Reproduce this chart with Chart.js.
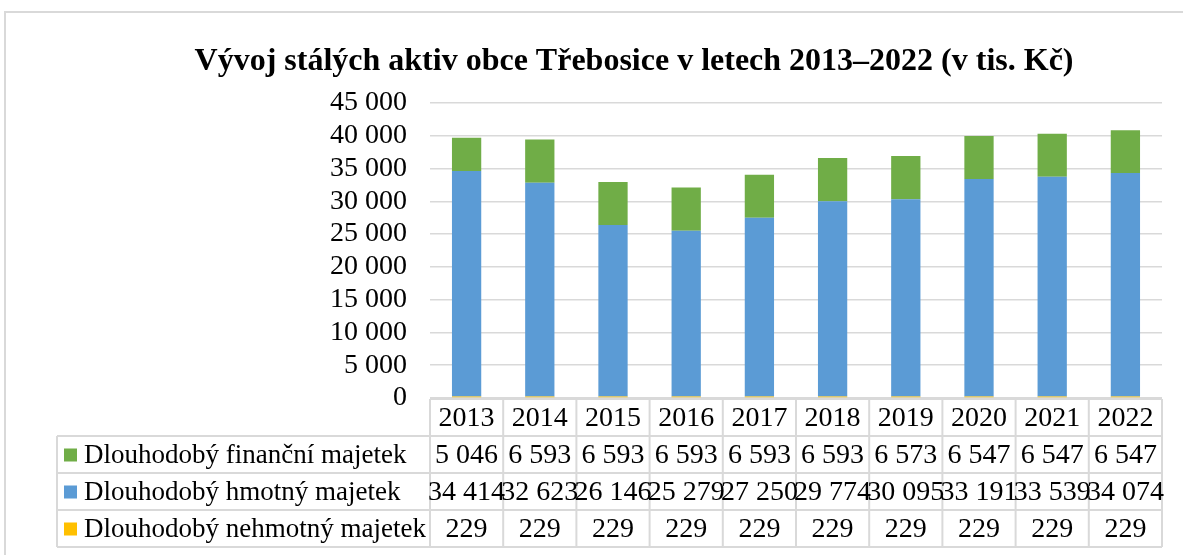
<!DOCTYPE html>
<html>
<head>
<meta charset="utf-8">
<script src="https://cdn.jsdelivr.net/npm/chart.js@4"></script>
<style>
  html, body { margin: 0; padding: 0; background: #fff; }
  #wrap { width: 1183px; height: 555px; position: relative; }
</style>
</head>
<body>
<div id="wrap"><canvas id="chart"></canvas></div>
<script>
const years = ['2013', '2014', '2015', '2016', '2017', '2018', '2019', '2020', '2021', '2022'];
const financni = [5046, 6593, 6593, 6593, 6593, 6593, 6573, 6547, 6547, 6547];
const hmotny = [34414, 32623, 26146, 25279, 27250, 29774, 30095, 33191, 33539, 34074];
const nehmotny = [229, 229, 229, 229, 229, 229, 229, 229, 229, 229];
const seriesNames = ['Dlouhodobý finanční majetek', 'Dlouhodobý hmotný majetek', 'Dlouhodobý nehmotný majetek'];
const seriesColors = ['#70ad47', '#5b9bd5', '#ffc000'];
const chartTitle = 'Vývoj stálých aktiv obce Třebosice v letech 2013–2022 (v tis. Kč)';
const yMax = 45000;
const yStep = 5000;

const serif = '"Times New Roman", "Liberation Serif", serif';
const fmt = v => String(v).replace(/\B(?=(\d{3})+(?!\d))/g, ' ');

// title, frame and the data table under the plot
const tablePlugin = {
  id: 'dataTable',
  beforeDraw(chart) {
    const ctx = chart.ctx;
    ctx.save();
    ctx.strokeStyle = '#d9d9d9';
    ctx.lineWidth = 2;
    ctx.strokeRect(5, 12, 1300, 700);
    ctx.fillStyle = '#000';
    ctx.font = 'bold 32px ' + serif;
    ctx.textAlign = 'center';
    ctx.textBaseline = 'middle';
    ctx.fillText(chartTitle, 634, 62);
    ctx.restore();
  },
  afterDraw(chart) {
    const { ctx, chartArea, scales: { x } } = chart;
    const rowH = 37;
    const top = chartArea.bottom + 1;
    const colW = (chartArea.right - chartArea.left) / years.length;
    const labelLeft = 57;
    const rows = [financni, hmotny, nehmotny];

    ctx.save();
    ctx.strokeStyle = '#d9d9d9';
    ctx.lineWidth = 2;
    ctx.beginPath();
    ctx.moveTo(chartArea.left, top);
    ctx.lineTo(chartArea.right, top);
    for (let r = 1; r <= 4; r++) {
      ctx.moveTo(labelLeft, top + r * rowH);
      ctx.lineTo(chartArea.right, top + r * rowH);
    }
    for (let i = 0; i <= years.length; i++) {
      const xx = chartArea.left + i * colW;
      ctx.moveTo(xx, top);
      ctx.lineTo(xx, top + 4 * rowH);
    }
    ctx.moveTo(labelLeft, top + rowH);
    ctx.lineTo(labelLeft, top + 4 * rowH);
    ctx.stroke();

    ctx.fillStyle = '#000';
    ctx.font = '28px ' + serif;
    ctx.textAlign = 'center';
    ctx.textBaseline = 'middle';
    years.forEach((y, i) => ctx.fillText(y, x.getPixelForValue(i), top + rowH / 2 + 1));

    rows.forEach((vals, r) => {
      const cy = top + (r + 1) * rowH + rowH / 2 + 1;
      ctx.font = '28px ' + serif;
      ctx.textAlign = 'center';
      ctx.fillStyle = '#000';
      vals.forEach((v, i) => ctx.fillText(fmt(v), x.getPixelForValue(i), cy));
      ctx.fillStyle = seriesColors[r];
      ctx.fillRect(64, cy - 7, 13, 13);
      ctx.fillStyle = '#000';
      ctx.textAlign = 'left';
      ctx.font = '27px ' + serif;
      ctx.fillText(seriesNames[r], 84, cy);
    });
    ctx.restore();
  }
};

new Chart(document.getElementById('chart'), {
  type: 'bar',
  data: {
    labels: years,
    datasets: [
      { label: seriesNames[2], data: nehmotny, backgroundColor: seriesColors[2] },
      { label: seriesNames[1], data: hmotny, backgroundColor: seriesColors[1] },
      { label: seriesNames[0], data: financni, backgroundColor: seriesColors[0] }
    ]
  },
  options: {
    responsive: true,
    maintainAspectRatio: false,
    animation: false,
    layout: { padding: { top: 103, bottom: 157, left: 0, right: 21 } },
    datasets: { bar: { categoryPercentage: 1, barPercentage: 0.4 } },
    plugins: { legend: { display: false }, tooltip: { enabled: false }, title: { display: false } },
    scales: {
      x: { stacked: true, display: false },
      y: {
        stacked: true,
        min: 0,
        max: yMax,
        border: { display: false },
        grid: { color: '#d9d9d9', lineWidth: 1.5, drawTicks: false },
        afterFit(scale) { scale.width = 430; },
        ticks: {
          stepSize: yStep,
          autoSkip: false,
          padding: 23,
          color: '#000',
          font: { family: serif, size: 28 },
          callback: v => fmt(v)
        }
      }
    }
  },
  plugins: [tablePlugin]
});
</script>
</body>
</html>
